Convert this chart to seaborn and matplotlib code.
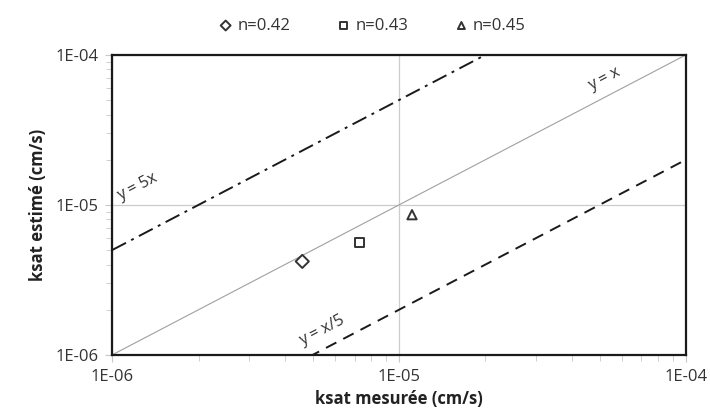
import numpy as np
import pandas as pd
import seaborn as sns
import matplotlib.pyplot as plt
from matplotlib.ticker import LogLocator, FixedLocator, NullFormatter

sns.set_style("white")
plt.rcParams['font.family'] = ['Open Sans', 'DejaVu Sans']

# measured vs estimated ksat (cm/s)
labels = ['n=0.42', 'n=0.43', 'n=0.45']
markers = ['D', 's', '^']
ksat_mesuree = [4.6e-6, 7.3e-6, 1.11e-5]
ksat_estime = [4.2e-6, 5.6e-6, 8.6e-6]

# reference lines y = k * x
ref_factors = [1, 5, 0.2]
ref_styles = ['-', (0, (8, 3, 1.5, 3)), (0, (6, 4))]
ref_labels = ['y = x', 'y = 5x', 'y = x/5']
ticks = [1e-6, 1e-5, 1e-4]
tick_labels = ['1E-06', '1E-05', '1E-04']

df = pd.DataFrame({'mesuree': ksat_mesuree, 'estime': ksat_estime, 'serie': labels})

fig = plt.figure(figsize=(7.1, 4.19), dpi=100)
ax = fig.add_axes([0.158, 0.153, 0.808, 0.716])

xr = np.array([1e-6, 1e-4])
for k, ls in zip(ref_factors, ref_styles):
    if k == 1:
        ax.plot(xr, xr * k, color='#a0a0a0', lw=0.8, ls=ls, zorder=2)
    else:
        ax.plot(xr, xr * k, color='#1a1a1a', lw=1.4, ls=ls, zorder=2)

for i, row in df.iterrows():
    sns.scatterplot(x=[row['mesuree']], y=[row['estime']], marker=markers[i], s=45,
                    facecolor='none', edgecolor='#333333', linewidth=1.4,
                    label=row['serie'], ax=ax, zorder=3)

ax.set_xscale('log')
ax.set_yscale('log')
ax.set_xlim(1e-6, 1e-4)
ax.set_ylim(1e-6, 1e-4)
ax.xaxis.set_major_locator(FixedLocator(ticks))
ax.yaxis.set_major_locator(FixedLocator(ticks))
ax.set_xticklabels(tick_labels)
ax.set_yticklabels(tick_labels)
ax.xaxis.set_minor_locator(LogLocator(base=10, subs=np.arange(2, 10)))
ax.yaxis.set_minor_locator(LogLocator(base=10, subs=np.arange(2, 10)))
ax.xaxis.set_minor_formatter(NullFormatter())
ax.yaxis.set_minor_formatter(NullFormatter())
ax.tick_params(which='both', direction='out', color='#c8c8c8', labelsize=12, labelcolor='#333333')
ax.tick_params(which='major', length=5, width=0.8, pad=5)
ax.tick_params(which='minor', length=4, width=0.6)
ax.tick_params(axis='x', which='both', bottom=True)
ax.tick_params(axis='y', which='both', left=True)
ax.grid(True, which='major', color='#cccccc', lw=0.9)
ax.set_axisbelow(True)
for s in ax.spines.values():
    s.set_visible(True)
    s.set_color('#1a1a1a')
    s.set_linewidth(1.6)

ax.set_xlabel('ksat mesurée (cm/s)', fontsize=12, fontweight='bold', color='#222222', labelpad=4)
ax.set_ylabel('ksat estimé (cm/s)', fontsize=12, fontweight='bold', color='#222222', labelpad=6)

ang = np.degrees(np.arctan(150 / 287))
ax.text(5.2e-5, 6.9e-5, ref_labels[0], rotation=ang, fontsize=11.5, color='#333333',
        ha='center', va='center', rotation_mode='anchor')
ax.text(1.22e-6, 1.32e-5, ref_labels[1], rotation=ang, fontsize=11.5, color='#333333',
        ha='center', va='center', rotation_mode='anchor')
ax.text(5.4e-6, 1.45e-6, ref_labels[2], rotation=ang, fontsize=11.5, color='#333333',
        ha='center', va='center', rotation_mode='anchor')

leg = ax.legend(loc='lower center', bbox_to_anchor=(0.445, 1.02), ncol=3, frameon=False,
                fontsize=12, handletextpad=-0.3, columnspacing=2.2, markerscale=0.75)
for t in leg.get_texts():
    t.set_color('#333333')

fig.savefig('out.png', dpi=100)
